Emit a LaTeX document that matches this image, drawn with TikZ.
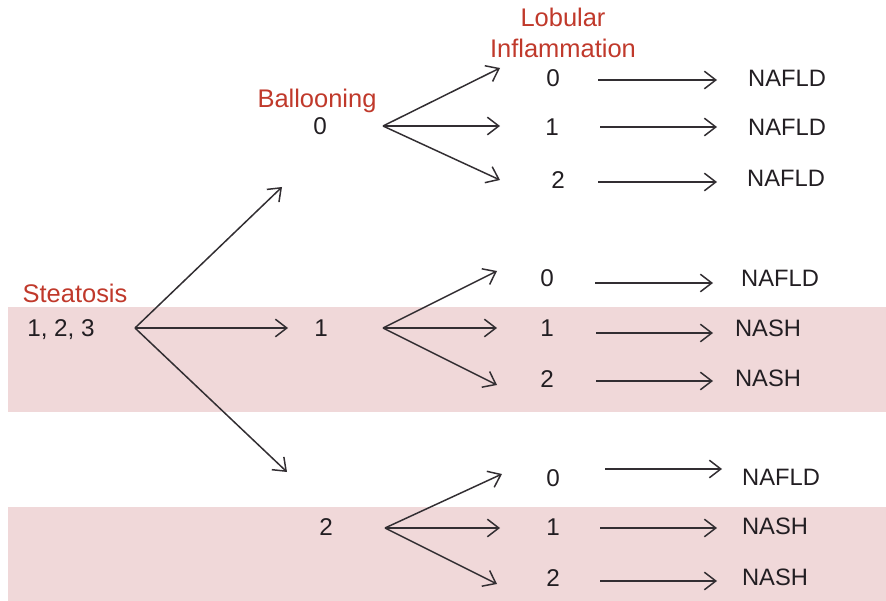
\documentclass[tikz,border=0pt]{standalone}
\usepackage{fontspec}
\setmainfont{Liberation Sans}
\usetikzlibrary{arrows.meta}
\definecolor{bandpink}{RGB}{240,216,217}
\definecolor{labred}{RGB}{192,57,43}
\definecolor{txtdark}{RGB}{34,30,34}
\definecolor{arrgray}{RGB}{50,46,50}
\tikzset{
  lbl/.style={inner sep=0pt, text depth=0pt, text=labred, font=\fontsize{14.5}{16}\selectfont},
  val/.style={inner sep=0pt, text depth=0pt, text=txtdark, font=\fontsize{13.8}{16}\selectfont},
  res/.style={inner sep=0pt, text depth=0pt, text=txtdark, font=\fontsize{13.5}{16}\selectfont},
  arr/.style={draw=arrgray, line width=0.85pt, -{Straight Barb[length=6.5pt,width=10pt,line width=0.85pt]}},
  band/.style={fill=bandpink, draw=none}
}
\begin{document}
\begin{tikzpicture}[x=0.02cm,y=-0.02cm]
\useasboundingbox (0,0) rectangle (886,601);
% bands
\fill[band] (8,307) rectangle (886,412);
\fill[band] (8,507) rectangle (886,601);
% labels
\node[lbl] (steat) at (75,293) {Steatosis};
\node[lbl] (ball) at (317,98) {Ballooning};
\node[lbl] (lob) at (563,17) {Lobular};
\node[lbl] (infl) at (563,48) {Inflammation};
% steatosis
\node[val] (s123) at (61,328) {1, 2, 3};
\coordinate (sb) at (135,328);
\coordinate (t0) at (282,187);
\coordinate (t1) at (288,328);
\coordinate (t2) at (287,472);
\draw[arr] (sb) -- (t0);
\draw[arr] (sb) -- (t1);
\draw[arr] (sb) -- (t2);
% ballooning values
\node[val] (b0) at (320,126) {0};
\node[val] (b1) at (321,328) {1};
\node[val] (b2) at (326,527) {2};
% branch points
\coordinate (bb0) at (383,126);
\coordinate (bb1) at (383,328);
\coordinate (bb2) at (385,528);
% group 0
\coordinate (a00) at (500,68);
\coordinate (a01) at (500,126);
\coordinate (a02) at (500,180);
\draw[arr] (bb0) -- (a00);
\draw[arr] (bb0) -- (a01);
\draw[arr] (bb0) -- (a02);
\node[val] (l00) at (553,78) {0};
\node[val] (l01) at (552,127) {1};
\node[val] (l02) at (558,180) {2};
\coordinate (s00) at (598,80);  \coordinate (e00) at (717,80);
\coordinate (s01) at (600,127); \coordinate (e01) at (717,127);
\coordinate (s02) at (598,182); \coordinate (e02) at (717,182);
\draw[arr] (s00) -- (e00);
\draw[arr] (s01) -- (e01);
\draw[arr] (s02) -- (e02);
\node[res] (r00) at (787,78) {NAFLD};
\node[res] (r01) at (787,127) {NAFLD};
\node[res] (r02) at (786,178) {NAFLD};
% group 1
\coordinate (a10) at (497,271);
\coordinate (a11) at (497,328);
\coordinate (a12) at (497,385);
\draw[arr] (bb1) -- (a10);
\draw[arr] (bb1) -- (a11);
\draw[arr] (bb1) -- (a12);
\node[val] (l10) at (547,278) {0};
\node[val] (l11) at (547,328) {1};
\node[val] (l12) at (547,379) {2};
\coordinate (s10) at (595,283); \coordinate (e10) at (713,283);
\coordinate (s11) at (596,333); \coordinate (e11) at (713,333);
\coordinate (s12) at (596,381); \coordinate (e12) at (713,381);
\draw[arr] (s10) -- (e10);
\draw[arr] (s11) -- (e11);
\draw[arr] (s12) -- (e12);
\node[res] (r10) at (780,278) {NAFLD};
\node[res] (r11) at (768,328) {NASH};
\node[res] (r12) at (768,378) {NASH};
% group 2
\coordinate (a20) at (502,474);
\coordinate (a21) at (500,528);
\coordinate (a22) at (497,584);
\draw[arr] (bb2) -- (a20);
\draw[arr] (bb2) -- (a21);
\draw[arr] (bb2) -- (a22);
\node[val] (l20) at (553,478) {0};
\node[val] (l21) at (553,527) {1};
\node[val] (l22) at (553,578) {2};
\coordinate (s20) at (605,469); \coordinate (e20) at (722,469);
\coordinate (s21) at (600,528); \coordinate (e21) at (717,528);
\coordinate (s22) at (600,581); \coordinate (e22) at (717,581);
\draw[arr] (s20) -- (e20);
\draw[arr] (s21) -- (e21);
\draw[arr] (s22) -- (e22);
\node[res] (r20) at (781,477) {NAFLD};
\node[res] (r21) at (775,526) {NASH};
\node[res] (r22) at (775,577) {NASH};
\end{tikzpicture}
\end{document}
